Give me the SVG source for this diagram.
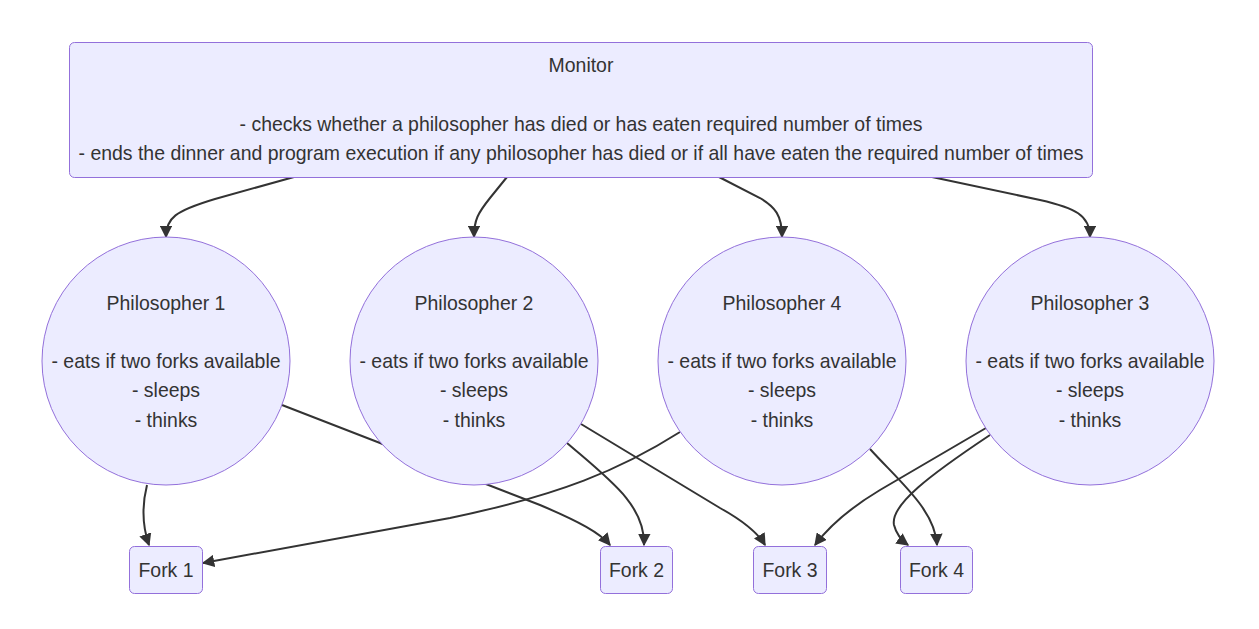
<svg xmlns="http://www.w3.org/2000/svg" width="1259" height="629" viewBox="0 0 1259 629">
<style>
.node rect, .node circle { fill:#ECECFF; stroke:#9370DB; stroke-width:1; }
.node text { font-family:"Liberation Sans", Arial, sans-serif; font-size:19.45px; fill:#333; text-anchor:middle; }
.edge { fill:none; stroke:#333; stroke-width:2; marker-end:url(#arrow); }
</style>
<defs>
<marker id="arrow" viewBox="0 0 10 10" refX="9" refY="5" markerUnits="userSpaceOnUse" markerWidth="12.5" markerHeight="12.5" orient="auto">
<path d="M0,0 L10,5 L0,10 z" fill="#333"/>
</marker>
</defs>
<rect width="1259" height="629" fill="#fff"/>
<g id="connectors">
<path class="edge" d="M294,177 L215,199 C175,211 166,218 166,237"/>
<path class="edge" d="M507,177 L490,198 C478,213 474,220 474,237"/>
<path class="edge" d="M719,177 L760,198 C775,207 782,215 782,237"/>
<path class="edge" d="M932,177 L1040,200 C1075,208 1090,215 1090,237"/>
<path class="edge" d="M147,485 C142,505 142,525 149,545"/>
<path class="edge" d="M282,405 L540,505 C580,522 600,533 610,545"/>
<path class="edge" d="M567,443 C610,480 645,505 644,545"/>
<path class="edge" d="M581,424 L720,508 C745,522 758,533 765,545"/>
<path class="edge" d="M680,432 C620,470 560,495 450,518 L203,563"/>
<path class="edge" d="M870,449 C900,482 935,510 937,545"/>
<path class="edge" d="M986,428 L880,490 C850,508 830,525 815,545"/>
<path class="edge" d="M990,435 C930,475 890,505 894,525 Q897,537 908,545"/>
</g>
<g id="monitor" class="node">
<rect x="69.5" y="42.5" width="1023" height="135" rx="5"/>
<text x="581" y="72">Monitor</text>
<text x="581" y="130.8">- checks whether a philosopher has died or has eaten required number of times</text>
<text x="581" y="160.2">- ends the dinner and program execution if any philosopher has died or if all have eaten the required number of times</text>
</g>
<g id="philosopher1" class="node">
<circle cx="166" cy="361" r="124"/>
<text x="166" y="310">Philosopher 1</text>
<text x="166" y="368">- eats if two forks available</text>
<text x="166" y="397.3">- sleeps</text>
<text x="166" y="426.6">- thinks</text>
</g>
<g id="philosopher2" class="node">
<circle cx="474" cy="361" r="124"/>
<text x="474" y="310">Philosopher 2</text>
<text x="474" y="368">- eats if two forks available</text>
<text x="474" y="397.3">- sleeps</text>
<text x="474" y="426.6">- thinks</text>
</g>
<g id="philosopher4" class="node">
<circle cx="782" cy="361" r="124"/>
<text x="782" y="310">Philosopher 4</text>
<text x="782" y="368">- eats if two forks available</text>
<text x="782" y="397.3">- sleeps</text>
<text x="782" y="426.6">- thinks</text>
</g>
<g id="philosopher3" class="node">
<circle cx="1090" cy="361" r="124"/>
<text x="1090" y="310">Philosopher 3</text>
<text x="1090" y="368">- eats if two forks available</text>
<text x="1090" y="397.3">- sleeps</text>
<text x="1090" y="426.6">- thinks</text>
</g>
<g id="fork1" class="node">
<rect x="129.5" y="546.5" width="73" height="47" rx="5"/>
<text x="166" y="576.5">Fork 1</text>
</g>
<g id="fork2" class="node">
<rect x="600.5" y="546.5" width="72" height="47" rx="5"/>
<text x="636.5" y="576.5">Fork 2</text>
</g>
<g id="fork3" class="node">
<rect x="753.5" y="546.5" width="73" height="47" rx="5"/>
<text x="790" y="576.5">Fork 3</text>
</g>
<g id="fork4" class="node">
<rect x="900.5" y="546.5" width="72" height="47" rx="5"/>
<text x="936.5" y="576.5">Fork 4</text>
</g>
</svg>
